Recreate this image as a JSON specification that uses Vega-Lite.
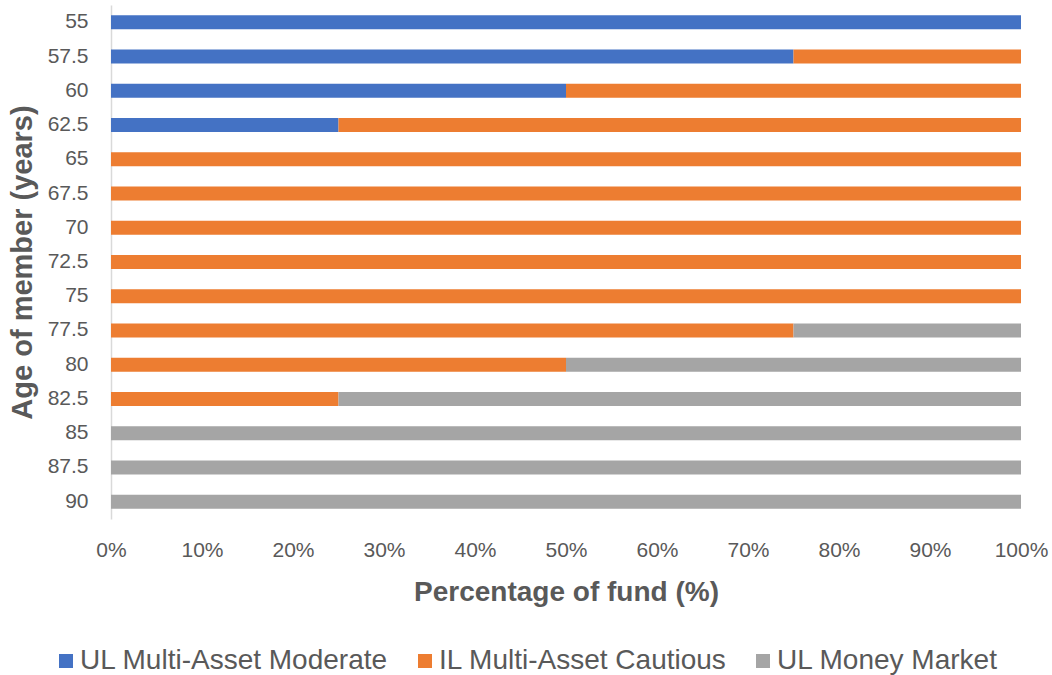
{
  "$schema": "https://vega.github.io/schema/vega-lite/v6.json",
  "autosize": "none",
  "padding": {"left": 111, "top": 5, "right": 31, "bottom": 156},
  "width": 910,
  "height": 514,
  "background": "white",
  "config": {
    "font": "Liberation Sans",
    "view": {"stroke": null}
  },
  "data": {
    "values": [
      {"age": "55", "fund": "UL Multi-Asset Moderate", "seq": 1, "pct": 100},
      {"age": "57.5", "fund": "UL Multi-Asset Moderate", "seq": 1, "pct": 75},
      {"age": "57.5", "fund": "IL Multi-Asset Cautious", "seq": 2, "pct": 25},
      {"age": "60", "fund": "UL Multi-Asset Moderate", "seq": 1, "pct": 50},
      {"age": "60", "fund": "IL Multi-Asset Cautious", "seq": 2, "pct": 50},
      {"age": "62.5", "fund": "UL Multi-Asset Moderate", "seq": 1, "pct": 25},
      {"age": "62.5", "fund": "IL Multi-Asset Cautious", "seq": 2, "pct": 75},
      {"age": "65", "fund": "IL Multi-Asset Cautious", "seq": 2, "pct": 100},
      {"age": "67.5", "fund": "IL Multi-Asset Cautious", "seq": 2, "pct": 100},
      {"age": "70", "fund": "IL Multi-Asset Cautious", "seq": 2, "pct": 100},
      {"age": "72.5", "fund": "IL Multi-Asset Cautious", "seq": 2, "pct": 100},
      {"age": "75", "fund": "IL Multi-Asset Cautious", "seq": 2, "pct": 100},
      {"age": "77.5", "fund": "IL Multi-Asset Cautious", "seq": 2, "pct": 75},
      {"age": "77.5", "fund": "UL Money Market", "seq": 3, "pct": 25},
      {"age": "80", "fund": "IL Multi-Asset Cautious", "seq": 2, "pct": 50},
      {"age": "80", "fund": "UL Money Market", "seq": 3, "pct": 50},
      {"age": "82.5", "fund": "IL Multi-Asset Cautious", "seq": 2, "pct": 25},
      {"age": "82.5", "fund": "UL Money Market", "seq": 3, "pct": 75},
      {"age": "85", "fund": "UL Money Market", "seq": 3, "pct": 100},
      {"age": "87.5", "fund": "UL Money Market", "seq": 3, "pct": 100},
      {"age": "90", "fund": "UL Money Market", "seq": 3, "pct": 100}
    ]
  },
  "mark": {"type": "bar"},
  "encoding": {
    "y": {
      "field": "age",
      "type": "ordinal",
      "sort": ["55", "57.5", "60", "62.5", "65", "67.5", "70", "72.5", "75", "77.5", "80", "82.5", "85", "87.5", "90"],
      "scale": {"paddingInner": 0.59, "paddingOuter": 0.3},
      "axis": {
        "title": "Age of member (years)",
        "titleFontSize": 29,
        "titleFontWeight": "bold",
        "titleColor": "#595959",
        "titlePadding": 10,
        "labelFontSize": 21,
        "labelColor": "#595959",
        "labelPadding": 23,
        "ticks": false,
        "domainColor": "#D9D9D9",
        "domainWidth": 1.5
      }
    },
    "x": {
      "field": "pct",
      "type": "quantitative",
      "stack": "normalize",
      "scale": {"domain": [0, 1], "nice": false},
      "axis": {
        "title": "Percentage of fund (%)",
        "format": ".0%",
        "values": [0, 0.1, 0.2, 0.3, 0.4, 0.5, 0.6, 0.7, 0.8, 0.9, 1],
        "titleFontSize": 28,
        "titleFontWeight": "bold",
        "titleColor": "#595959",
        "titlePadding": 18,
        "labelFontSize": 21,
        "labelColor": "#595959",
        "labelPadding": 20,
        "labelFlush": false,
        "ticks": false,
        "domain": false,
        "grid": false
      }
    },
    "color": {
      "field": "fund",
      "type": "nominal",
      "sort": ["UL Multi-Asset Moderate", "IL Multi-Asset Cautious", "UL Money Market"],
      "scale": {
        "domain": ["UL Multi-Asset Moderate", "IL Multi-Asset Cautious", "UL Money Market"],
        "range": ["#4472C4", "#ED7D31", "#A5A5A5"]
      },
      "legend": {
        "title": null,
        "orient": "none",
        "direction": "horizontal",
        "legendX": -59,
        "legendY": 642,
        "symbolType": "square",
        "symbolSize": 196,
        "symbolStrokeWidth": 0,
        "labelFontSize": 28,
        "labelColor": "#595959",
        "labelOffset": 0,
        "columnPadding": 22,
        "labelLimit": 500
      }
    },
    "order": {"field": "seq", "type": "quantitative", "sort": "ascending"}
  }
}
